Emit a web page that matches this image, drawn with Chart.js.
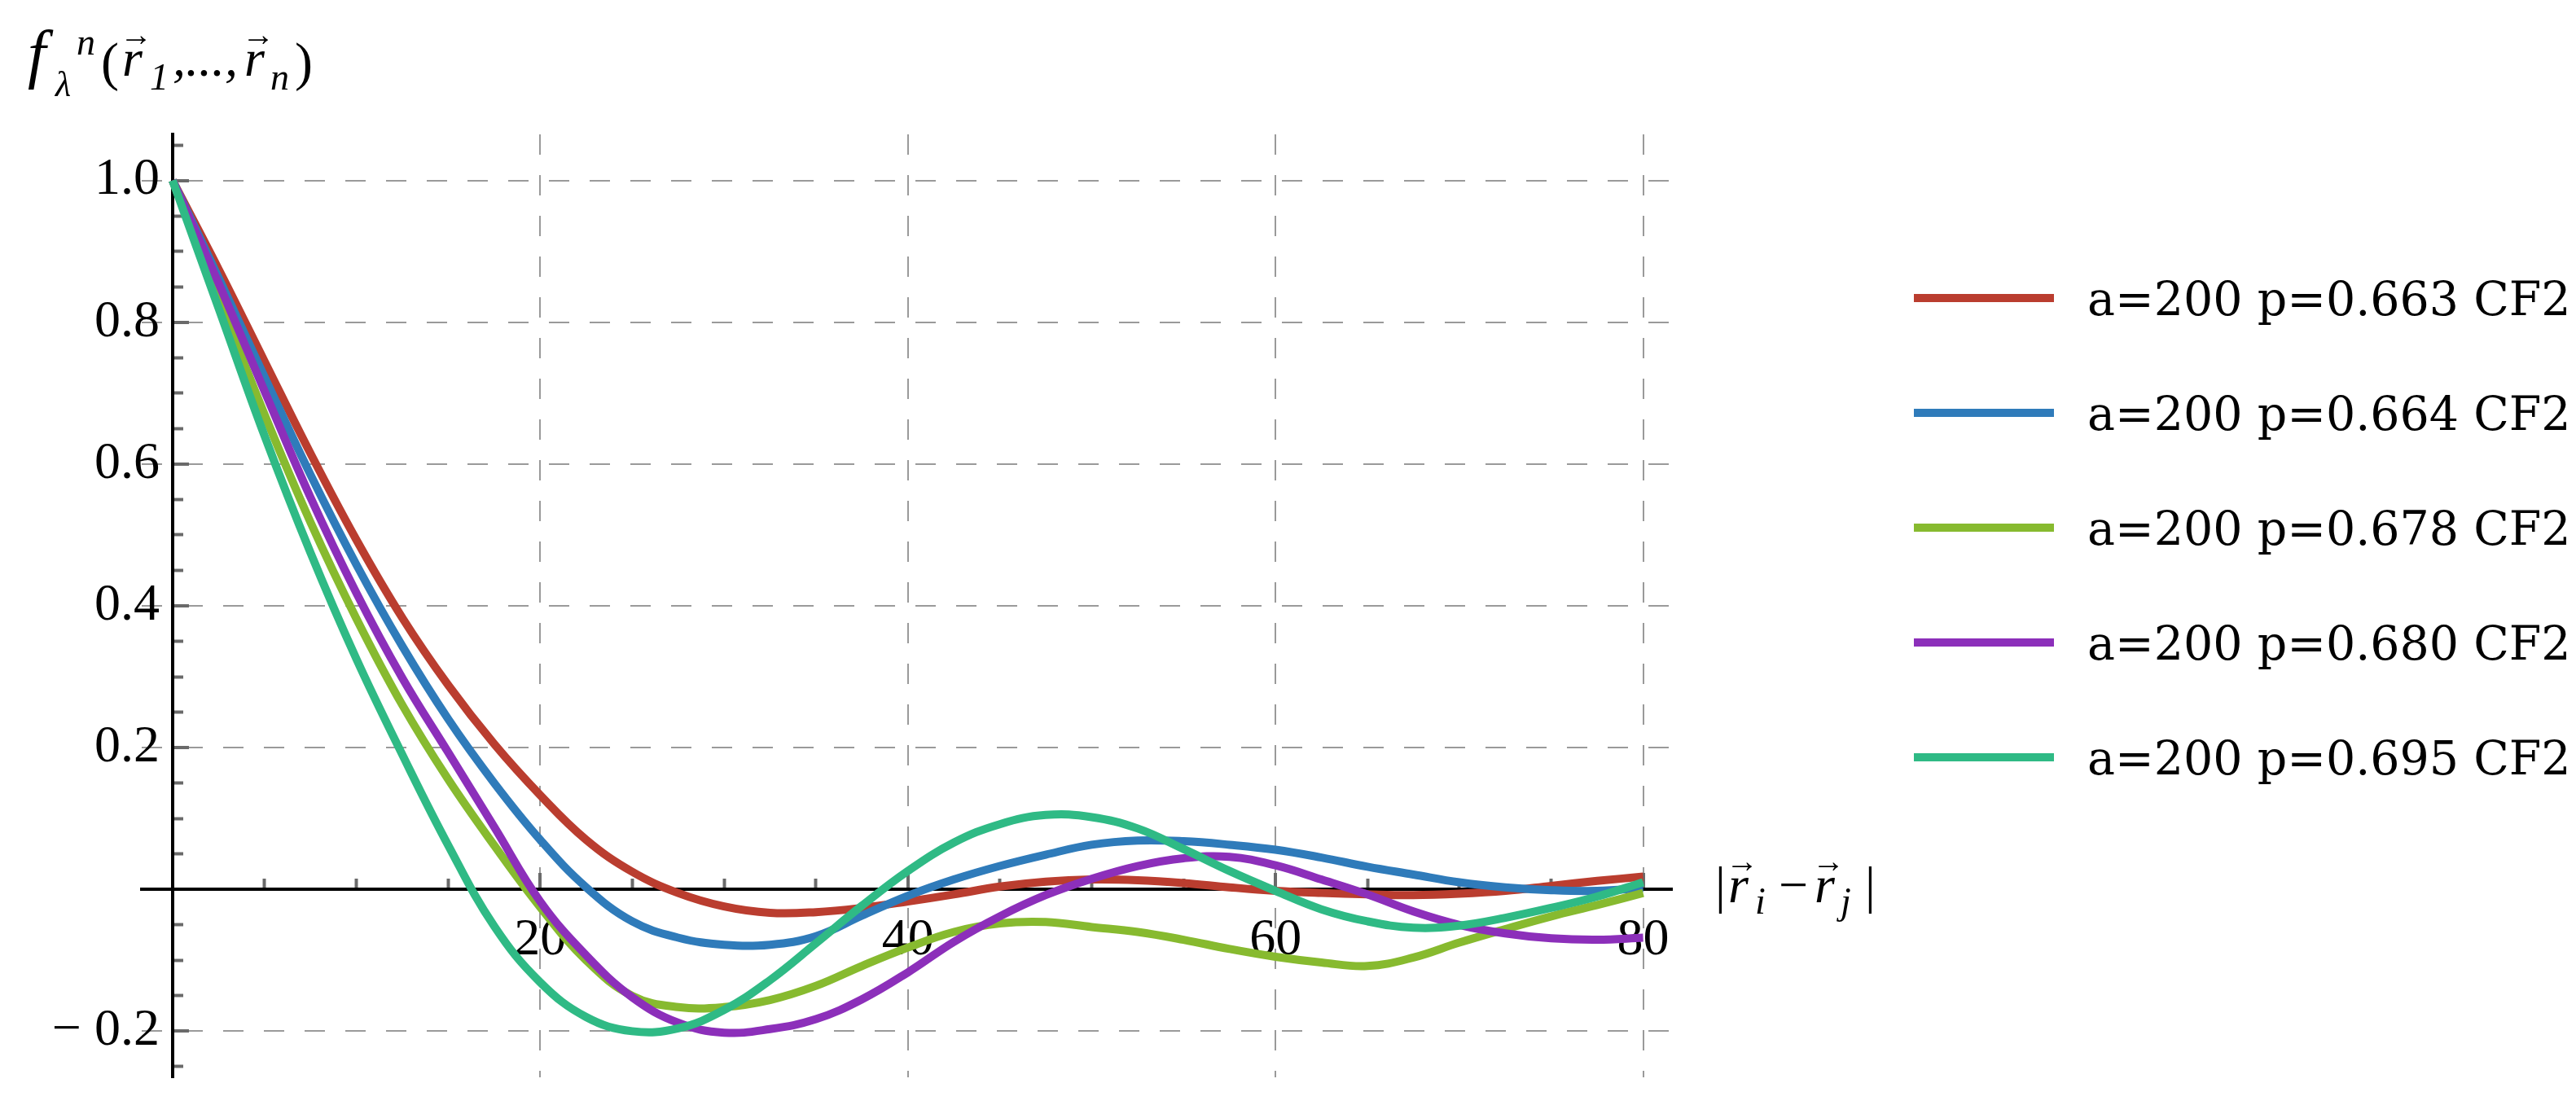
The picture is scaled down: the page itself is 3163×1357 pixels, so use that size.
<!DOCTYPE html>
<html>
<head>
<meta charset="utf-8">
<script src="https://cdn.jsdelivr.net/npm/chart.js@4.4.1/dist/chart.umd.min.js"></script>
<style>
  html, body { margin: 0; padding: 0; background: #fff; }
  #wrap { width: 3163px; height: 1357px; }
</style>
</head>
<body>
<div id="wrap"><canvas id="canvas"></canvas></div>
<script>
"use strict";

// |r_i - r_j| sample positions
const distances = [0, 2.5, 5, 7.5, 10, 12.5, 15, 17.5, 20, 22.5, 25, 27.5, 30, 32.5, 35, 37.5, 40,
    42.5, 45, 47.5, 50, 52.5, 55, 57.5, 60, 62.5, 65, 67.5, 70, 72.5, 75, 77.5, 80];

const seriesLabels = ['a=200 p=0.663 CF2', 'a=200 p=0.664 CF2', 'a=200 p=0.678 CF2',
    'a=200 p=0.680 CF2', 'a=200 p=0.695 CF2'];
const seriesColors = ['#ba3d2f', '#2f7bba', '#87ba2f', '#8c2fba', '#2fba85'];

const p0663 = [1.0, 0.875, 0.745, 0.615, 0.493, 0.383, 0.288, 0.205, 0.133, 0.070, 0.025, -0.005,
    -0.024, -0.033, -0.032, -0.026, -0.017, -0.007, 0.004, 0.011, 0.014, 0.013, 0.009, 0.003,
    -0.002, -0.005, -0.007, -0.008, -0.006, -0.002, 0.005, 0.012, 0.018];
const p0664 = [1.0, 0.863, 0.723, 0.585, 0.458, 0.343, 0.240, 0.150, 0.070, 0.003, -0.045, -0.068,
    -0.078, -0.078, -0.066, -0.037, -0.009, 0.014, 0.033, 0.049, 0.063, 0.069, 0.068, 0.063,
    0.056, 0.045, 0.032, 0.021, 0.010, 0.003, -0.001, -0.002, 0.002];
const p0678 = [1.0, 0.835, 0.670, 0.518, 0.382, 0.260, 0.155, 0.062, -0.025, -0.100, -0.150, -0.166,
    -0.166, -0.156, -0.136, -0.108, -0.082, -0.060, -0.048, -0.046, -0.053, -0.060, -0.071, -0.084,
    -0.095, -0.103, -0.108, -0.096, -0.075, -0.056, -0.038, -0.022, -0.005];
const p0680 = [1.0, 0.855, 0.703, 0.553, 0.418, 0.298, 0.193, 0.088, -0.017, -0.093, -0.152, -0.188,
    -0.202, -0.197, -0.183, -0.155, -0.117, -0.074, -0.038, -0.008, 0.015, 0.033, 0.044, 0.046,
    0.034, 0.014, -0.007, -0.031, -0.050, -0.062, -0.069, -0.071, -0.068];
const p0695 = [1.0, 0.820, 0.640, 0.475, 0.325, 0.190, 0.062, -0.052, -0.131, -0.180, -0.200, -0.196,
    -0.170, -0.128, -0.076, -0.023, 0.026, 0.066, 0.092, 0.105, 0.102, 0.086, 0.057, 0.026,
    -0.002, -0.028, -0.045, -0.054, -0.051, -0.040, -0.026, -0.010, 0.010];

const xTickValues = [20, 40, 60, 80];
const xTickLabels = ['20', '40', '60', '80'];
const yTickValues = [-0.2, 0.2, 0.4, 0.6, 0.8, 1.0];
const yTickLabels = ['\u2212 0.2', '0.2', '0.4', '0.6', '0.8', '1.0'];

const allSeries = [p0663, p0664, p0678, p0680, p0695];

const tickFont = { family: 'Liberation Serif', size: 64 };
const gridGray = '#9a9a9a';
const tickGray = '#6a6a6a';
const clear = 'rgba(0,0,0,0)';

function minorX() {
    const out = [];
    for (let v = 5; v <= 80; v += 5) if (v % 20 !== 0) out.push({ value: v });
    return out;
}
function minorY() {
    const out = [];
    for (let i = -5; i <= 21; i++) if (i % 4 !== 0) out.push({ value: i * 0.05 });
    return out;
}

// axes sit inside the plot, so they must not take layout room
function noRoom(s) {
    if (s.isHorizontal()) s.height = 0; else s.width = 0;
    s.paddingTop = 0;
    s.paddingBottom = 0;
    s.paddingLeft = 0;
    s.paddingRight = 0;
}

function drawPieces(ctx, pieces) {
    pieces.forEach(p => {
        ctx.font = (p.italic ? 'italic ' : '') + p.size + 'px "Liberation Serif"';
        ctx.fillText(p.t, p.x, p.y);
        if (p.arrow) {
            const w = ctx.measureText(p.t).width;
            ctx.font = Math.round(p.size * 0.62) + 'px "Liberation Serif"';
            const aw = ctx.measureText('\u2192').width;
            ctx.fillText('\u2192', p.x + w / 2 - aw / 2 + p.size * 0.07, p.y - p.size * 0.58);
        }
    });
}

const decorations = {
    id: 'decorations',
    afterDraw(chart) {
        const ctx = chart.ctx;
        ctx.save();
        ctx.textAlign = 'left';
        ctx.textBaseline = 'alphabetic';
        ctx.fillStyle = '#000';

        // y axis title
        drawPieces(ctx, [
            { t: 'f', x: 34, y: 93, size: 80, italic: true },
            { t: 'n', x: 94, y: 67, size: 46, italic: true },
            { t: '\u03bb', x: 68, y: 118, size: 44, italic: true },
            { t: '(', x: 124, y: 98, size: 66 },
            { t: 'r', x: 150, y: 93, size: 64, italic: true, arrow: true },
            { t: '1', x: 184, y: 110, size: 46, italic: true },
            { t: ',...,', x: 212, y: 93, size: 64, italic: true },
            { t: 'r', x: 300, y: 93, size: 64, italic: true, arrow: true },
            { t: 'n', x: 332, y: 110, size: 46, italic: true },
            { t: ')', x: 362, y: 98, size: 66 }
        ]);

        // x axis title
        drawPieces(ctx, [
            { t: '|', x: 2106, y: 1108, size: 64 },
            { t: 'r', x: 2122, y: 1108, size: 64, italic: true, arrow: true },
            { t: 'i', x: 2155, y: 1122, size: 46, italic: true },
            { t: '\u2212', x: 2184, y: 1108, size: 64 },
            { t: 'r', x: 2228, y: 1108, size: 64, italic: true, arrow: true },
            { t: 'j', x: 2260, y: 1122, size: 46, italic: true },
            { t: '|', x: 2290, y: 1108, size: 64 }
        ]);

        // legend
        ctx.font = '57px "DejaVu Serif"';
        chart.data.datasets.forEach((ds, i) => {
            const y = 366 + i * 141;
            ctx.fillStyle = ds.borderColor;
            ctx.fillRect(2350, y - 5, 172, 10);
            ctx.fillStyle = '#000';
            ctx.fillText(ds.label, 2563, y + 21);
        });
        ctx.restore();
    }
};

const ctx = document.getElementById('canvas').getContext('2d');
window.myLine = new Chart(ctx, {
    type: 'line',
    data: {
        datasets: allSeries.map((values, i) => ({
            label: seriesLabels[i],
            data: distances.map((d, j) => ({ x: d, y: values[j] })),
            borderColor: seriesColors[i],
            backgroundColor: seriesColors[i],
            borderWidth: 10,
            pointRadius: 0,
            fill: false,
            tension: 0.4,
            order: allSeries.length - i
        }))
    },
    options: {
        responsive: true,
        maintainAspectRatio: false,
        animation: false,
        devicePixelRatio: 1,
        layout: { padding: { left: 174, top: 165, right: 1110, bottom: 34 } },
        plugins: {
            legend: { display: false },
            tooltip: { enabled: false }
        },
        scales: {
            x: {
                type: 'linear',
                position: { y: 0 },
                min: -1.68,
                max: 81.57,
                afterBuildTicks: s => { s.ticks = [0].concat(xTickValues).map(v => ({ value: v })); },
                afterFit: noRoom,
                ticks: {
                    autoSkip: false,
                    maxRotation: 0,
                    padding: 47,
                    color: '#000',
                    font: tickFont,
                    callback: v => xTickLabels[xTickValues.indexOf(v)] || ''
                },
                grid: {
                    color: c => (c.tick && c.tick.value !== 0) ? gridGray : clear,
                    lineWidth: 2,
                    tickLength: -22,
                    tickWidth: 4,
                    tickColor: tickGray
                },
                border: { display: true, color: '#000', width: 4, dash: [25, 25] }
            },
            xMinor: {
                type: 'linear',
                axis: 'x',
                position: { y: 0 },
                min: -1.68,
                max: 81.57,
                afterBuildTicks: s => { s.ticks = minorX(); },
                afterFit: noRoom,
                ticks: { display: false },
                grid: { drawOnChartArea: false, tickLength: -13, tickWidth: 4, tickColor: tickGray },
                border: { display: false }
            },
            y: {
                type: 'linear',
                position: { x: 0 },
                min: -0.265,
                max: 1.065,
                afterBuildTicks: s => { s.ticks = yTickValues.slice(0, 1).concat([0], yTickValues.slice(1)).map(v => ({ value: v })); },
                afterFit: noRoom,
                ticks: {
                    autoSkip: false,
                    padding: 24,
                    color: '#000',
                    font: tickFont,
                    // trailing space keeps the label clear of the axis line
                    callback: v => {
                        const k = yTickValues.indexOf(v);
                        return k < 0 ? '' : yTickLabels[k] + ' ';
                    }
                },
                grid: {
                    color: c => (c.tick && c.tick.value !== 0) ? gridGray : clear,
                    lineWidth: 2,
                    tickLength: -22,
                    tickWidth: 4,
                    tickColor: tickGray
                },
                border: { display: true, color: '#000', width: 4, dash: [25, 25] }
            },
            yMinor: {
                type: 'linear',
                axis: 'y',
                position: { x: 0 },
                min: -0.265,
                max: 1.065,
                afterBuildTicks: s => { s.ticks = minorY(); },
                afterFit: noRoom,
                ticks: { display: false },
                grid: { drawOnChartArea: false, tickLength: -13, tickWidth: 4, tickColor: tickGray },
                border: { display: false }
            }
        }
    },
    plugins: [decorations]
});
</script>
</body>
</html>
